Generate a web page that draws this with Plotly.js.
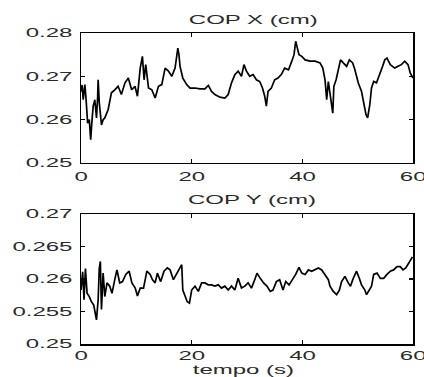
<!DOCTYPE html>
<html>
<head>
<meta charset="utf-8">
<script src="https://cdn.plot.ly/plotly-3.0.1.min.js"></script>
<style>
html,body{margin:0;padding:0;background:#fff;}
#chart{width:424px;height:377px;}
</style>
</head>
<body>
<div id="chart"></div>
<script>
// COP X (cm) vs time (s)
var tX = [0,0.2,0.4,0.7,0.9,1.2,1.5,1.75,2.0,2.2,2.5,2.8,3.0,3.1,3.3,3.4,3.7,4.0,4.3,4.9,5.5,6.1,6.7,7.3,7.95,8.55,9.15,9.75,10.2,10.7,11.1,11.4,11.7,12.2,12.8,13.4,14.0,14.6,15.2,15.8,16.4,17.0,17.5,17.7,17.9,18.4,19.1,19.7,20.6,21.5,22.4,23.0,23.6,24.2,25.1,26.0,26.6,27.2,27.8,28.4,29.0,29.45,29.9,30.5,31.1,31.7,32.3,32.8,33.2,33.5,33.8,34.4,35.0,35.6,36.2,36.8,37.5,38.1,38.5,38.8,39.1,39.4,39.9,40.5,41.4,42.3,43.2,43.7,44.1,44.4,44.7,45.1,45.5,45.7,46.1,46.5,46.9,47.4,48.0,48.5,49.1,49.5,50.1,50.7,51.1,51.5,51.8,52.2,52.5,52.9,53.4,54.0,54.5,54.9,55.3,55.9,56.7,57.3,57.9,58.5,59.1,59.5,60];
var copX = [0.2665,0.2680,0.2646,0.2681,0.2650,0.2592,0.2600,0.2554,0.2600,0.2631,0.2646,0.2604,0.2650,0.2692,0.2640,0.2623,0.2588,0.2600,0.2604,0.2623,0.2662,0.2669,0.2677,0.2658,0.2685,0.2696,0.2669,0.2677,0.2654,0.2719,0.2746,0.2692,0.2727,0.2673,0.2669,0.2650,0.2677,0.2681,0.2719,0.2712,0.2700,0.2719,0.2765,0.2750,0.2723,0.2696,0.2681,0.2673,0.2673,0.2671,0.2671,0.2679,0.2665,0.2658,0.2652,0.2650,0.2658,0.2685,0.2704,0.2712,0.2700,0.2727,0.2712,0.2700,0.2704,0.2692,0.2688,0.2673,0.2654,0.2631,0.2665,0.2673,0.2692,0.2696,0.2704,0.2719,0.2715,0.2735,0.2750,0.2781,0.2765,0.2750,0.2746,0.2738,0.2735,0.2735,0.2731,0.2719,0.2692,0.2646,0.2688,0.2654,0.2615,0.2677,0.2692,0.2715,0.2738,0.2731,0.2723,0.2738,0.2731,0.2715,0.2685,0.2665,0.2638,0.2612,0.2604,0.2635,0.2673,0.2688,0.2685,0.2704,0.2723,0.2738,0.2742,0.2727,0.2719,0.2723,0.2727,0.2735,0.2727,0.2708,0.2696];

// COP Y (cm) vs time (s)
var tY = [0,0.3,0.55,0.8,1.1,1.5,1.9,2.3,2.8,3.1,3.3,3.5,3.7,4.0,4.3,4.7,5.2,5.6,6.1,6.5,7.0,7.5,8.1,8.7,9.2,9.8,10.2,10.7,11.3,11.9,12.5,12.9,13.4,13.8,14.4,15.0,15.6,16.1,16.7,17.2,17.6,18.2,18.4,18.8,19.2,19.6,20.0,20.6,21.2,21.8,22.4,23.0,23.6,24.2,24.8,25.4,26.0,26.6,27.2,27.8,28.4,29.0,29.6,30.2,30.8,31.4,31.8,32.4,33.0,33.6,34.2,34.7,35.3,35.9,36.5,37.0,37.6,38.2,38.8,39.4,39.9,40.5,41.1,41.7,42.3,42.9,43.5,44.1,44.7,45.0,45.6,46.2,46.7,47.1,47.7,48.3,48.7,49.2,49.8,50.3,50.7,51.3,51.6,52.1,52.5,52.9,53.5,54.1,54.7,55.3,55.9,56.5,57.1,57.7,58.2,58.7,59.1,59.5,59.9];
var copY = [0.2583,0.2611,0.2568,0.2616,0.2578,0.2573,0.2565,0.2560,0.2537,0.2568,0.2616,0.2627,0.2553,0.2609,0.2573,0.2594,0.2589,0.2578,0.2599,0.2614,0.2594,0.2596,0.2607,0.2612,0.2594,0.2586,0.2574,0.2586,0.2586,0.2612,0.2607,0.2599,0.2594,0.2609,0.2596,0.2612,0.2617,0.2614,0.2599,0.2607,0.2612,0.2622,0.2583,0.2573,0.2565,0.2563,0.2583,0.2589,0.2581,0.2594,0.2594,0.2591,0.2591,0.2589,0.2591,0.2586,0.2589,0.2583,0.2589,0.2583,0.2601,0.2586,0.2589,0.2594,0.2586,0.2599,0.2609,0.2601,0.2594,0.2589,0.2581,0.2583,0.2596,0.2599,0.2583,0.2596,0.2591,0.2599,0.2607,0.2618,0.2609,0.2607,0.2614,0.2612,0.2614,0.2617,0.2614,0.2607,0.2599,0.2589,0.2581,0.2576,0.2583,0.2596,0.2604,0.2594,0.2589,0.2601,0.2612,0.2601,0.2591,0.2583,0.2576,0.2583,0.2589,0.2607,0.2609,0.2601,0.2601,0.2607,0.2612,0.2614,0.2619,0.2619,0.2614,0.2617,0.2622,0.2627,0.2634];

var xTicks = [0,20,40,60];
var yTicksX = [0.25,0.26,0.27,0.28];
var yTicksY = [0.25,0.255,0.26,0.265,0.27];
var yTickTextY = ['0.25','0.255','0.26','0.265','0.27'];

var font = {family:'Liberation Sans, Arial, Helvetica, sans-serif', size:12, color:'#2a2a2a'};

var axBase = {
  showline:true, mirror:'ticks', linecolor:'#000', linewidth:1.5,
  ticks:'inside', ticklen:4, tickwidth:1.2, tickcolor:'#000',
  showgrid:false, zeroline:false, tickfont:font, fixedrange:true
};

var traces = [
  {x:tX, y:copX, xaxis:'x', yaxis:'y', type:'scatter', mode:'lines',
   line:{color:'#000', width:1.7}, hoverinfo:'skip'},
  {x:tY, y:copY, xaxis:'x2', yaxis:'y2', type:'scatter', mode:'lines',
   line:{color:'#000', width:1.7}, hoverinfo:'skip'}
];

var layout = {
  width:424, height:377,
  margin:{l:81, r:11, t:33, b:33},
  paper_bgcolor:'#fff', plot_bgcolor:'#fff',
  showlegend:false,
  xaxis: Object.assign({}, axBase, {domain:[0,1], anchor:'y', range:[0,60], tickvals:xTicks, ticktext:xTicks.map(String), ticklabelstandoff:2}),
  yaxis: Object.assign({}, axBase, {domain:[0.582,1], anchor:'x', range:[0.25,0.28], tickvals:yTicksX, ticktext:yTicksX.map(String), ticklabelstandoff:5}),
  xaxis2: Object.assign({}, axBase, {domain:[0,1], anchor:'y2', range:[0,60], tickvals:xTicks, ticktext:xTicks.map(String), ticklabelstandoff:0}),
  yaxis2: Object.assign({}, axBase, {domain:[0,0.418], anchor:'x2', range:[0.25,0.27], tickvals:yTicksY, ticktext:yTickTextY, ticklabelstandoff:5}),
  annotations:[
    {text:'COP X (cm)', xref:'paper', yref:'paper', x:0.518, y:1, yanchor:'middle', yshift:13, showarrow:false, font:font},
    {text:'COP Y (cm)', xref:'paper', yref:'paper', x:0.515, y:0.418, yanchor:'middle', yshift:14, showarrow:false, font:font},
    {text:'tempo (s)', xref:'paper', yref:'paper', x:0.49, y:0, yanchor:'middle', yshift:-26, showarrow:false, font:font}
  ]
};

Plotly.newPlot('chart', traces, layout, {staticPlot:true, displayModeBar:false}).then(function(gd){
  // widen the glyphs horizontally (x2), like the stretched lettering of the original figure,
  // keeping each label's anchor point fixed
  var texts = gd.querySelectorAll('.main-svg text');
  texts.forEach(function(t){
    try {
      var w = t.getComputedTextLength();
      if (!(w > 0)) return;
      var bb = t.getBBox();
      var anch = t.getAttribute('text-anchor') || 'start';
      var W = w * 2;
      var start;
      if (anch === 'middle') start = bb.x + bb.width / 2 - W / 2;
      else if (anch === 'end') start = bb.x + bb.width - W;
      else start = bb.x;
      t.setAttribute('text-anchor', 'start');
      t.setAttribute('x', start.toFixed(1));
      t.querySelectorAll('tspan').forEach(function(s){ if (s.hasAttribute('x')) s.setAttribute('x', start.toFixed(1)); });
      t.setAttribute('textLength', W.toFixed(1));
      t.setAttribute('lengthAdjust', 'spacingAndGlyphs');
    } catch(e) {}
  });
});
</script>
</body>
</html>
